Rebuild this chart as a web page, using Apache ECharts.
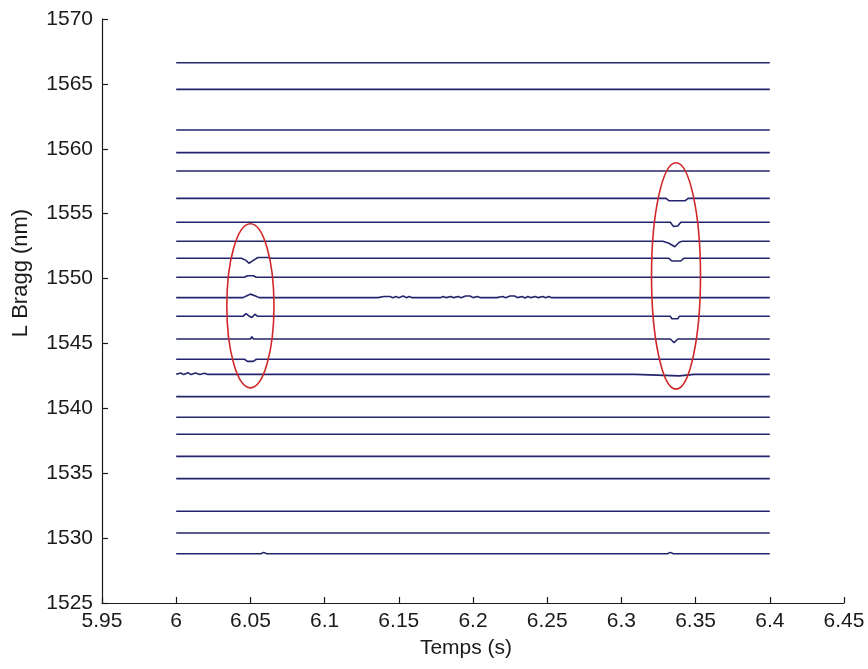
<!DOCTYPE html>
<html>
<head>
<meta charset="utf-8">
<script src="https://cdn.jsdelivr.net/npm/echarts@6/dist/echarts.min.js"></script>
<style>
html,body{margin:0;padding:0;background:#fff;}
#chart{width:868px;height:669px;}
</style>
</head>
<body>
<div id="chart"></div>
<script>
// ---- data ----
const xStart = 6.0;
const xEnd = 6.4;
const xTicks = [5.95, 6, 6.05, 6.1, 6.15, 6.2, 6.25, 6.3, 6.35, 6.4, 6.45];
const yTicks = [1525, 1530, 1535, 1540, 1545, 1550, 1555, 1560, 1565, 1570];

// base wavelength of each Bragg grating trace (nm), top to bottom
const levels = [1566.63, 1564.58, 1561.45, 1559.70, 1558.29, 1556.18, 1554.34,
  1552.87, 1551.56, 1550.10, 1548.53, 1547.09, 1545.34, 1543.78, 1542.62,
  1540.90, 1539.31, 1538.00, 1536.30, 1534.58, 1532.07, 1530.39, 1528.80];

// local disturbances on individual traces [time, wavelength]
const detail1556 = [[6.330,1556.18],[6.332,1556.00],[6.343,1556.00],[6.345,1556.18]];
const detail1554 = [[6.333,1554.34],[6.335,1554.02],[6.338,1554.05],[6.340,1554.34]];
const detail1552 = [[6.328,1552.87],[6.332,1552.72],[6.336,1552.45],[6.339,1552.80],[6.341,1552.87]];
const detail1551 = [[6.044,1551.56],[6.047,1551.40],[6.049,1551.18],[6.052,1551.40],[6.055,1551.62],[6.062,1551.62],[6.064,1551.56],
  [6.332,1551.56],[6.334,1551.35],[6.340,1551.35],[6.342,1551.56]];
const detail1550 = [[6.046,1550.10],[6.048,1550.22],[6.052,1550.22],[6.054,1550.10]];
const detail1548 = [[6.045,1548.53],[6.048,1548.70],[6.050,1548.80],[6.053,1548.68],[6.056,1548.53],
  [6.125,1548.53],[6.126,1548.62],[6.127,1548.53],[6.134,1548.53],[6.135,1548.62],[6.136,1548.53],
  [6.140,1548.62],[6.141,1548.53],[6.144,1548.62],[6.146,1548.53],[6.148,1548.62],[6.150,1548.53],
  [6.153,1548.65],[6.155,1548.53],[6.157,1548.62],[6.159,1548.53],[6.165,1548.53],[6.166,1548.62],
  [6.168,1548.53],[6.175,1548.53],[6.176,1548.62],[6.178,1548.53],[6.180,1548.62],[6.182,1548.53],
  [6.185,1548.62],[6.187,1548.53],[6.190,1548.62],[6.192,1548.53],[6.195,1548.66],[6.198,1548.66],
  [6.200,1548.53],[6.203,1548.62],[6.205,1548.53],[6.213,1548.53],[6.214,1548.62],[6.216,1548.53],
  [6.220,1548.62],[6.222,1548.53],[6.225,1548.66],[6.228,1548.66],[6.230,1548.53],[6.233,1548.62],
  [6.235,1548.50],[6.237,1548.62],[6.239,1548.53],[6.242,1548.62],[6.244,1548.53],[6.247,1548.62],
  [6.249,1548.53],[6.251,1548.62],[6.253,1548.53]];
const detail1547 = [[6.045,1547.09],[6.047,1547.30],[6.049,1547.12],[6.051,1547.00],[6.053,1547.25],[6.055,1547.09],
  [6.333,1547.09],[6.334,1546.90],[6.338,1546.90],[6.339,1547.09]];
const detail1545 = [[6.050,1545.34],[6.051,1545.52],[6.052,1545.34],
  [6.333,1545.34],[6.3355,1545.05],[6.338,1545.34]];
const detail1543 = [[6.046,1543.78],[6.048,1543.62],[6.052,1543.62],[6.054,1543.78]];
const detail1542 = [[6.003,1542.72],[6.005,1542.60],[6.008,1542.75],[6.010,1542.60],[6.013,1542.72],
  [6.016,1542.60],[6.019,1542.70],[6.021,1542.62],
  [6.309,1542.62],[6.3095,1542.50],[6.339,1542.50],[6.3395,1542.62],
  [6.349,1542.62],[6.3495,1542.52],[6.350,1542.62],[6.370,1542.62],[6.3705,1542.52],[6.371,1542.62],
  [6.390,1542.62],[6.3905,1542.52],[6.391,1542.62]];
const detail1528 = [[6.054,1528.80],[6.055,1528.90],[6.057,1528.80],[6.059,1528.90],[6.061,1528.80],
  [6.158,1528.80],[6.1585,1528.90],[6.159,1528.80],[6.162,1528.80],[6.1625,1528.90],[6.163,1528.80],
  [6.183,1528.80],[6.1835,1528.90],[6.184,1528.80],
  [6.328,1528.80],[6.329,1528.90],[6.331,1528.80],[6.333,1528.90],[6.335,1528.80],[6.341,1528.80],[6.342,1528.90],[6.343,1528.80]];

const details = {
  1556.18: detail1556, 1554.34: detail1554, 1552.87: detail1552, 1551.56: detail1551,
  1550.10: detail1550, 1548.53: detail1548, 1547.09: detail1547, 1545.34: detail1545,
  1543.78: detail1543, 1542.62: detail1542, 1528.80: detail1528
};

// annotation ellipses: centre (time, wavelength) and semi-axes (time, wavelength)
const ellipseLeft = {cx: 6.050, cy: 1547.9, rx: 0.0159, ry: 6.32};
const ellipseRight = {cx: 6.3368, cy: 1550.2, rx: 0.0165, ry: 8.72};

// ---- chart ----
const lineColor = '#25256e';
const series = levels.map(function (v) {
  const extra = details[v.toFixed(2)] || details[v] || [];
  const data = [[xStart, v]].concat(extra).concat([[xEnd, v]]);
  return {
    type: 'line', data: data, symbol: 'none', silent: true,
    lineStyle: {color: lineColor, width: 1.6}, animation: false
  };
});

const chart = echarts.init(document.getElementById('chart'), null, {renderer: 'canvas'});
const fontFamily = '"Liberation Sans", Arial, sans-serif';
const fmt = function (v) { return String(parseFloat(Number(v).toFixed(2))); };

chart.setOption({
  backgroundColor: '#ffffff',
  animation: false,
  grid: {left: 102, right: 24, top: 19, bottom: 66, containLabel: false},
  xAxis: {
    type: 'value', min: xTicks[0], max: xTicks[xTicks.length - 1], interval: 0.05,
    name: 'Temps (s)', nameLocation: 'middle', nameGap: 35,
    nameTextStyle: {fontFamily: fontFamily, fontSize: 21, color: '#1a1a1a', padding: [0, 14, 0, 0]},
    axisLine: {show: true, onZero: false, lineStyle: {color: '#1a1a1a', width: 1.2}},
    axisTick: {show: true, inside: true, length: 6, lineStyle: {color: '#1a1a1a', width: 1.2}},
    axisLabel: {fontFamily: fontFamily, fontSize: 21, color: '#1a1a1a', margin: 8, formatter: fmt, showMinLabel: true, showMaxLabel: true},
    splitLine: {show: false}
  },
  yAxis: {
    type: 'value', min: yTicks[0], max: yTicks[yTicks.length - 1], interval: 5,
    name: 'L Bragg (nm)', nameLocation: 'middle', nameGap: 70,
    nameTextStyle: {fontFamily: fontFamily, fontSize: 22, color: '#1a1a1a', padding: [0, 0, 0, 76]},
    axisLine: {show: true, onZero: false, lineStyle: {color: '#1a1a1a', width: 1.2}},
    axisTick: {show: true, inside: true, length: 6, lineStyle: {color: '#1a1a1a', width: 1.2}},
    axisLabel: {fontFamily: fontFamily, fontSize: 21, color: '#1a1a1a', margin: 9, formatter: fmt},
    splitLine: {show: false}
  },
  series: series
});

function ellipseGraphic(e) {
  const c = chart.convertToPixel({gridIndex: 0}, [e.cx, e.cy]);
  const p = chart.convertToPixel({gridIndex: 0}, [e.cx + e.rx, e.cy + e.ry]);
  return {
    type: 'ellipse', silent: true, z: 100,
    shape: {cx: c[0], cy: c[1], rx: Math.abs(p[0] - c[0]), ry: Math.abs(p[1] - c[1])},
    style: {fill: 'none', stroke: '#d0282a', lineWidth: 1.6}
  };
}
chart.setOption({graphic: [ellipseGraphic(ellipseLeft), ellipseGraphic(ellipseRight)]});
</script>
</body>
</html>
